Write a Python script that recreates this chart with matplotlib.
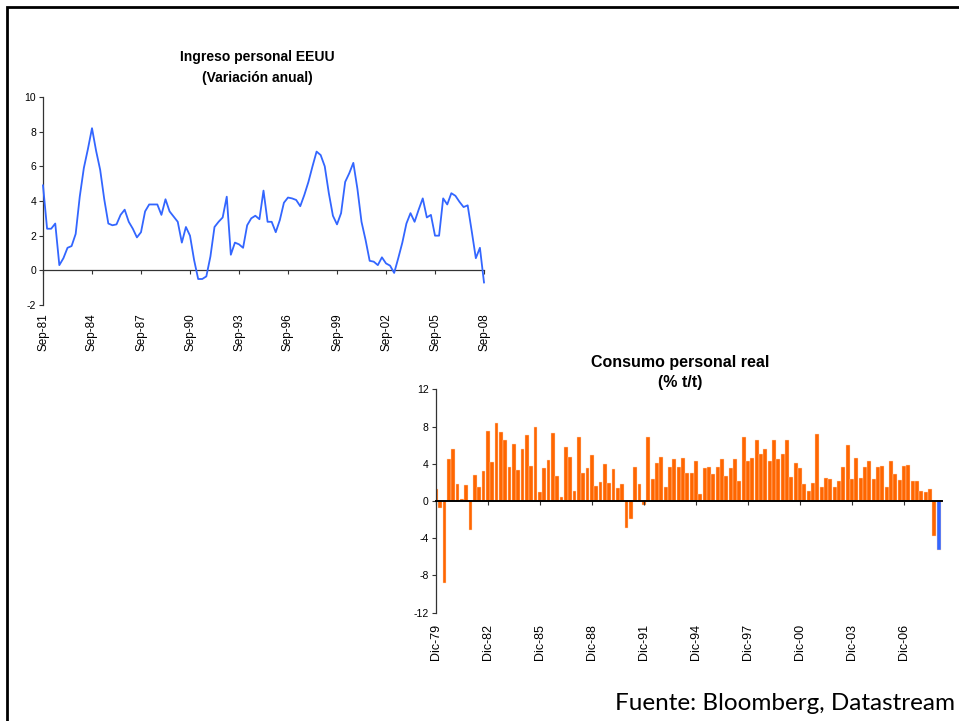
import numpy as np
import matplotlib
matplotlib.use("Agg")
import matplotlib.pyplot as plt
from matplotlib.patches import Rectangle

plt.rcParams['font.family'] = ['Liberation Sans', 'DejaVu Sans']
plt.rcParams['axes.unicode_minus'] = False

# Personal income, y/y % change, quarterly Sep-81 .. Sep-08
ingreso = [4.9, 2.4, 2.4, 2.7, 0.3, 0.7, 1.3, 1.4, 2.1, 4.25,
           5.9, 7.0, 8.2, 6.9, 5.8, 4.1, 2.7, 2.6, 2.65, 3.2,
           3.5, 2.8, 2.4, 1.9, 2.2, 3.4, 3.8, 3.8, 3.8, 3.2,
           4.1, 3.4, 3.1, 2.8, 1.6, 2.5, 2.0, 0.6, -0.5, -0.5,
           -0.35, 0.8, 2.5, 2.8, 3.05, 4.25, 0.9, 1.6, 1.5, 1.3,
           2.6, 3.0, 3.15, 2.95, 4.6, 2.8, 2.8, 2.2, 2.9, 3.9,
           4.2, 4.15, 4.06, 3.7, 4.35, 5.1, 6.0, 6.85, 6.65, 6.0,
           4.45, 3.15, 2.65, 3.3, 5.1, 5.6, 6.2, 4.7, 2.8, 1.75,
           0.55, 0.5, 0.3, 0.75, 0.4, 0.27, -0.15, 0.7, 1.6, 2.7,
           3.3, 2.8, 3.5, 4.15, 3.05, 3.2, 2.0, 2.0, 4.15, 3.8,
           4.45, 4.3, 3.95, 3.65, 3.75, 2.25, 0.7, 1.3, -0.7]
ingreso_labels = ['Sep-81', 'Sep-84', 'Sep-87', 'Sep-90', 'Sep-93',
                  'Sep-96', 'Sep-99', 'Sep-02', 'Sep-05', 'Sep-08']

# Real personal consumption, q/q % annualised, Dic-79 .. Dic-08
consumo = [1.3, -0.8, -8.8, 4.55, 5.55, 1.8, 0.2, 1.7, -3.1, 2.8,
           1.55, 3.25, 7.55, 4.15, 8.35, 7.45, 6.6, 3.6, 6.1, 3.35,
           5.55, 7.05, 3.8, 7.9, 1.0, 3.5, 4.4, 7.3, 2.7, 0.4,
           5.75, 4.75, 1.1, 6.9, 3.05, 3.5, 4.9, 1.6, 2.0, 4.0,
           1.9, 3.45, 1.35, 1.8, -2.9, -1.9, 3.6, 1.8, -0.4, 6.9,
           2.35, 4.1, 4.75, 1.55, 3.7, 4.55, 3.7, 4.65, 3.05, 3.05,
           4.25, 0.75, 3.5, 3.6, 2.9, 3.7, 4.5, 2.7, 3.5, 4.5,
           2.1, 6.85, 4.35, 4.65, 6.6, 5.0, 5.6, 4.25, 6.5, 4.5,
           5.1, 6.6, 2.6, 4.05, 3.5, 1.85, 1.1, 1.9, 7.2, 1.55,
           2.5, 2.4, 1.55, 2.2, 3.7, 6.0, 2.35, 4.6, 2.5, 3.6,
           4.35, 2.4, 3.7, 3.8, 1.55, 4.35, 2.9, 2.3, 3.75, 3.85,
           2.1, 2.1, 1.1, 0.95, 1.3, -3.75, -5.25]
consumo_labels = ['Dic-79', 'Dic-82', 'Dic-85', 'Dic-88', 'Dic-91',
                  'Dic-94', 'Dic-97', 'Dic-00', 'Dic-03', 'Dic-06']
n_estimados = 1  # last quarter shown as estimate

BLUE = '#3366FF'
ORANGE = '#FF6600'

W, H = 959, 721
fig = plt.figure(figsize=(W / 100, H / 100), dpi=100)


def fig_box(x0, y0, x1, y1):
    """Pixel box (top-left origin) -> figure fraction rect."""
    return [x0 / W, 1 - y1 / H, (x1 - x0) / W, (y1 - y0) / H]


def style_axis(ax, yticks, ylabel_size, xlabel_size, labels, label_pad, zero_lw, zero_color):
    for side in ('top', 'right'):
        ax.spines[side].set_visible(False)
    ax.spines['left'].set_color('#333333')
    ax.spines['left'].set_linewidth(0.9)
    ax.spines['bottom'].set_position(('data', 0))
    ax.spines['bottom'].set_color(zero_color)
    ax.spines['bottom'].set_linewidth(zero_lw)
    ax.spines['bottom'].set_zorder(5)
    ax.set_yticks(yticks)
    ax.tick_params(axis='y', direction='out', length=3, width=0.8, color='#333333',
                   labelsize=ylabel_size, pad=2)
    ticks = np.arange(0, 12 * len(labels), 12)
    ax.set_xticks(ticks)
    ax.tick_params(axis='x', direction='out', length=3, width=0.8, color='#333333',
                   labelbottom=False)
    sec = ax.secondary_xaxis(0)
    sec.set_xticks(ticks, labels, rotation=90)
    sec.tick_params(length=0, labelsize=xlabel_size, pad=label_pad)
    sec.spines['bottom'].set_visible(False)


# Top: personal income line
ax1 = fig.add_axes(fig_box(43, 97, 484, 305))
ax1.plot(np.arange(len(ingreso)), ingreso, color=BLUE, lw=1.3, clip_on=False, zorder=6)
ax1.set_xlim(0, len(ingreso) - 1)
ax1.set_ylim(-2, 10)
style_axis(ax1, np.arange(-2, 11, 2), 7.5, 8.5, ingreso_labels, 6, 0.9, '#333333')
fig.text(257 / W, 1 - 57 / H, 'Ingreso personal EEUU', ha='center', va='center',
         fontsize=10, fontweight='bold')
fig.text(257 / W, 1 - 78 / H, '(Variación anual)', ha='center', va='center',
         fontsize=10, fontweight='bold')

# Bottom: real consumption bars, estimate in blue
ax2 = fig.add_axes(fig_box(435.8, 389.3, 941.7, 612.7))
colors = [ORANGE] * (len(consumo) - n_estimados) + [BLUE] * n_estimados
ax2.bar(np.arange(len(consumo)), consumo, width=0.9, color=colors,
        edgecolor='#FFD9BF', linewidth=0.3)
ax2.set_xlim(0, len(consumo) - 0.3)
ax2.set_ylim(-12, 12)
style_axis(ax2, np.arange(-12, 13, 4), 7.5, 9, consumo_labels, 8, 1.4, 'black')
fig.text(680 / W, 1 - 363 / H, 'Consumo personal real', ha='center', va='center',
         fontsize=11.5, fontweight='bold')
fig.text(680 / W, 1 - 383 / H, '(% t/t)', ha='center', va='center',
         fontsize=11.5, fontweight='bold')

# Source note and slide frame
fig.text(955 / W, 1 - 703 / H, 'Fuente: Bloomberg, Datastream', ha='right', va='center',
         fontsize=17.5, family=['Lato', 'DejaVu Sans'])
fig.add_artist(Rectangle((7 / W, -0.1), 1.2, 1 - 7 / H + 0.1, transform=fig.transFigure,
                         fill=False, edgecolor='black', linewidth=2))

fig.savefig('out.png', dpi=100)
